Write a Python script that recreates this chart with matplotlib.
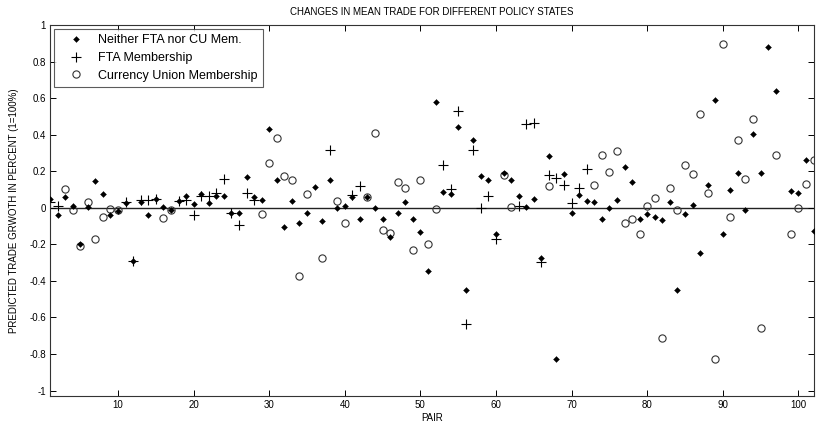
import numpy as np
import matplotlib
matplotlib.use("Agg")
import matplotlib.pyplot as plt

nan = np.nan
pairs = list(range(1, 103))

neither = [0.05, -0.037, 0.06, 0.008, -0.20, 0.005, 0.144, 0.075, -0.037, -0.015,
           0.025, -0.29, 0.03, -0.037, 0.05, 0.004, -0.014, 0.037, 0.064, 0.022,
           0.075, 0.026, 0.064, 0.066, -0.028, -0.03, 0.166, 0.058, 0.041, 0.433,
           0.154, -0.104, 0.037, -0.086, -0.026, 0.113, -0.075, 0.154, -0.003, 0.008,
           0.06, -0.059, 0.059, -0.003, -0.064, -0.159, -0.026, 0.03, -0.059, -0.132,
           -0.344, 0.58, 0.088, 0.077, 0.44, -0.451, 0.372, 0.172, 0.15, -0.146,
           0.19, 0.154, 0.064, 0.003, 0.048, -0.273, 0.282, -0.826, 0.183, -0.028,
           0.072, 0.037, 0.032, -0.064, 0.001, 0.045, 0.222, 0.143, -0.059, -0.032,
           -0.053, -0.068, 0.032, -0.451, -0.035, 0.015, -0.25, 0.126, 0.591, -0.143,
           0.099, 0.188, -0.014, 0.406, 0.188, 0.882, 0.64, nan, 0.092, 0.081,
           0.259, -0.126]

fta = [0.03, 0.01, nan, nan, nan, nan, nan, nan, nan, nan,
       0.03, -0.293, 0.045, 0.043, 0.05, nan, nan, 0.036, 0.043, -0.042,
       0.064, 0.064, 0.083, 0.159, -0.03, -0.092, 0.081, 0.043, nan, nan,
       nan, nan, nan, nan, nan, nan, nan, 0.317, nan, nan,
       0.07, 0.121, nan, nan, nan, nan, nan, nan, nan, nan,
       nan, nan, 0.232, 0.102, 0.53, -0.637, 0.317, 0.001, 0.064, -0.17,
       nan, nan, 0.008, 0.457, 0.462, -0.295, 0.177, 0.164, 0.123, 0.028,
       0.11, 0.21, nan, nan, nan, nan, nan, nan, nan, nan,
       nan, nan, nan, nan, nan, nan, nan, nan, nan, nan,
       nan, nan, nan, nan, nan, nan, nan, nan, nan, nan,
       nan, nan]

cu = [nan, nan, 0.105, -0.014, -0.207, 0.032, -0.17, -0.052, -0.007, -0.01,
      nan, nan, nan, nan, nan, -0.058, -0.014, nan, nan, nan,
      nan, nan, nan, nan, nan, nan, nan, nan, -0.032, 0.244,
      0.383, 0.175, 0.154, -0.373, 0.075, nan, -0.277, nan, 0.037, -0.083,
      nan, nan, 0.059, 0.411, -0.119, -0.137, 0.139, 0.11, -0.232, 0.154,
      -0.199, -0.008, nan, nan, nan, nan, nan, nan, nan, nan,
      0.18, 0.005, nan, nan, nan, nan, 0.121, nan, nan, nan,
      nan, nan, 0.123, 0.29, 0.193, 0.312, -0.086, -0.059, -0.141, 0.008,
      0.053, -0.713, 0.11, -0.014, 0.233, 0.183, 0.511, 0.081, -0.826, 0.898,
      -0.053, 0.373, 0.159, 0.484, -0.658, nan, 0.29, nan, -0.143, -0.004,
      0.132, 0.259]

xticks = [10, 20, 30, 40, 50, 60, 70, 80, 90, 100]
yticks = [-1, -0.8, -0.6, -0.4, -0.2, 0, 0.2, 0.4, 0.6, 0.8, 1]
yticklabels = ["-1", "-0.8", "-0.6", "-0.4", "-0.2", "0", "0.2", "0.4", "0.6", "0.8", "1"]

plt.rcParams['font.family'] = ['Liberation Sans', 'DejaVu Sans']

W, H = 816, 423
fig = plt.figure(figsize=(W / 100, H / 100), dpi=100)
ax = fig.add_axes([50 / W, 27 / H, (813.5 - 50) / W, (396 - 25) / H])

ax.axhline(0, color='#222222', lw=1.0, zorder=1)
ax.plot(pairs, neither, linestyle='none', marker='D', ms=3.0, color='k',
        mec='k', mew=0.3, label='Neither FTA nor CU Mem.', zorder=3)
ax.plot(pairs, fta, linestyle='none', marker='+', ms=7, color='k',
        mew=0.8, label='FTA Membership', zorder=2)
ax.plot(pairs, cu, linestyle='none', marker='o', ms=5.2, mfc='none',
        mec='#333333', mew=0.8, label='Currency Union Membership', zorder=2)

ax.set_xlim(1, 102)
ax.set_ylim(-1.03, 1)
ax.set_xticks(xticks)
ax.set_yticks(yticks)
ax.set_yticklabels(yticklabels)
ax.tick_params(direction='in', top=True, right=True, length=4, width=0.7,
               labelsize=7, colors='k', pad=3)
for s in ax.spines.values():
    s.set_linewidth(0.8)
    s.set_color('#333333')

ax.set_title('CHANGES IN MEAN TRADE FOR DIFFERENT POLICY STATES', fontsize=7, pad=7)
ax.set_xlabel('PAIR', fontsize=7, labelpad=2)
ax.set_ylabel('PREDICTED TRADE GRWOTH IN PERCENT (1=100%)', fontsize=7, labelpad=7)

leg = ax.legend(loc='upper left', fontsize=9, frameon=True, fancybox=False,
                edgecolor='#333333', borderaxespad=0.35, handlelength=2.6,
                handletextpad=0.5, labelspacing=0.45, borderpad=0.4)
leg.get_frame().set_linewidth(0.8)

fig.savefig('out.png', dpi=100)
